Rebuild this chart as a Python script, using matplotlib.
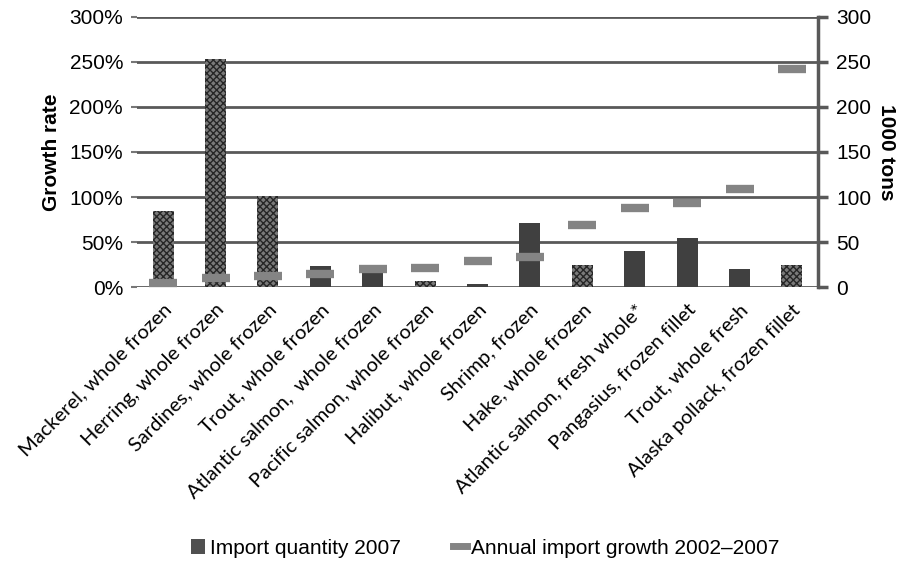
import matplotlib
matplotlib.use("Agg")
import matplotlib.pyplot as plt
import numpy as np
from matplotlib.lines import Line2D
from matplotlib.patches import Patch

categories = ["Mackerel, whole frozen", "Herring, whole frozen", "Sardines, whole frozen",
              "Trout, whole frozen", "Atlantic salmon,  whole frozen", "Pacific salmon, whole frozen",
              "Halibut, whole frozen", "Shrimp, frozen", "Hake, whole frozen",
              "Atlantic salmon, fresh whole*", "Pangasius, frozen fillet", "Trout, whole fresh",
              "Alaska pollack, frozen fillet"]
# import quantity 2007, 1000 tons (right axis)
quantity = [84, 253, 101, 23, 22, 7, 3, 71, 25, 40, 54, 20, 24]
# dotted pattern for some bars, solid for the rest
dotted = [True, True, True, False, False, True, False, False, True, False, False, False, True]
# annual import growth 2002-2007, % (left axis)
growth = [5, 10.5, 12.5, 14.5, 20, 21.5, 29.5, 33, 69, 88, 93, 108.5, 242]

plt.rcParams['font.family'] = ['Liberation Sans', 'DejaVu Sans']

fig = plt.figure(figsize=(9.07, 5.64), dpi=100)
ax = fig.add_axes([0.151, 0.491, 0.751, 0.479])
ax2 = ax.twinx()

x = np.arange(len(categories))
dark = '#404040'
for xi, q, d in zip(x, quantity, dotted):
    if d:
        ax2.bar(xi, q, width=0.4, color='#7a7a7a', edgecolor='#262626', hatch='xxxxx', linewidth=0)
    else:
        ax2.bar(xi, q, width=0.4, color=dark, linewidth=0)

ax.set_zorder(ax2.get_zorder() + 1)
ax.patch.set_visible(False)
ax.plot(x, growth, linestyle='none', marker='_', markersize=20, markeredgewidth=6,
        color='#848484')

ax.set_xlim(-0.5, len(categories) - 0.5)
ax.set_ylim(0, 300)
ax2.set_ylim(0, 300)
ax.set_yticks(np.arange(0, 301, 50))
ax.set_yticklabels([f"{v}%" for v in range(0, 301, 50)], fontsize=15)
ax2.set_yticks(np.arange(0, 301, 50))
ax2.set_yticklabels([str(v) for v in range(0, 301, 50)], fontsize=15)

for v in range(0, 301, 50):
    ax2.axhline(v, color='#595959', linewidth=2, zorder=0)

for a in (ax, ax2):
    for s in ('top', 'left', 'bottom'):
        a.spines[s].set_visible(False)
ax.spines['right'].set_visible(False)
ax2.spines['right'].set_color('#595959')
ax2.spines['right'].set_linewidth(2.5)
ax.tick_params(axis='y', length=4, width=1.5, color='#777777', pad=6)
ax2.tick_params(axis='y', length=7, width=2.5, color='#595959', pad=6)
ax.tick_params(axis='x', length=0)

ax.set_xticks(x)
ax.set_xticklabels(categories, rotation=45, ha='right', rotation_mode='anchor',
                   fontsize=14.5, family=['Lato', 'DejaVu Sans'])
ax.tick_params(axis='x', pad=10)

ax.set_ylabel("Growth rate", fontsize=15, fontweight='bold', labelpad=6)
ax2.set_ylabel("1000 tons", fontsize=15, fontweight='bold', rotation=270, labelpad=18)

handles = [Patch(facecolor='#505050', edgecolor='none'),
           Line2D([], [], color='#848484', linewidth=5)]
fig.legend(handles, ["Import quantity 2007", "Annual import growth 2002\u20132007"],
           loc='center', bbox_to_anchor=(0.535, 0.028), ncol=2, frameon=False,
           fontsize=15, handlelength=0.7, handletextpad=0.2, columnspacing=2.5)

fig.savefig("out.png", dpi=100)
